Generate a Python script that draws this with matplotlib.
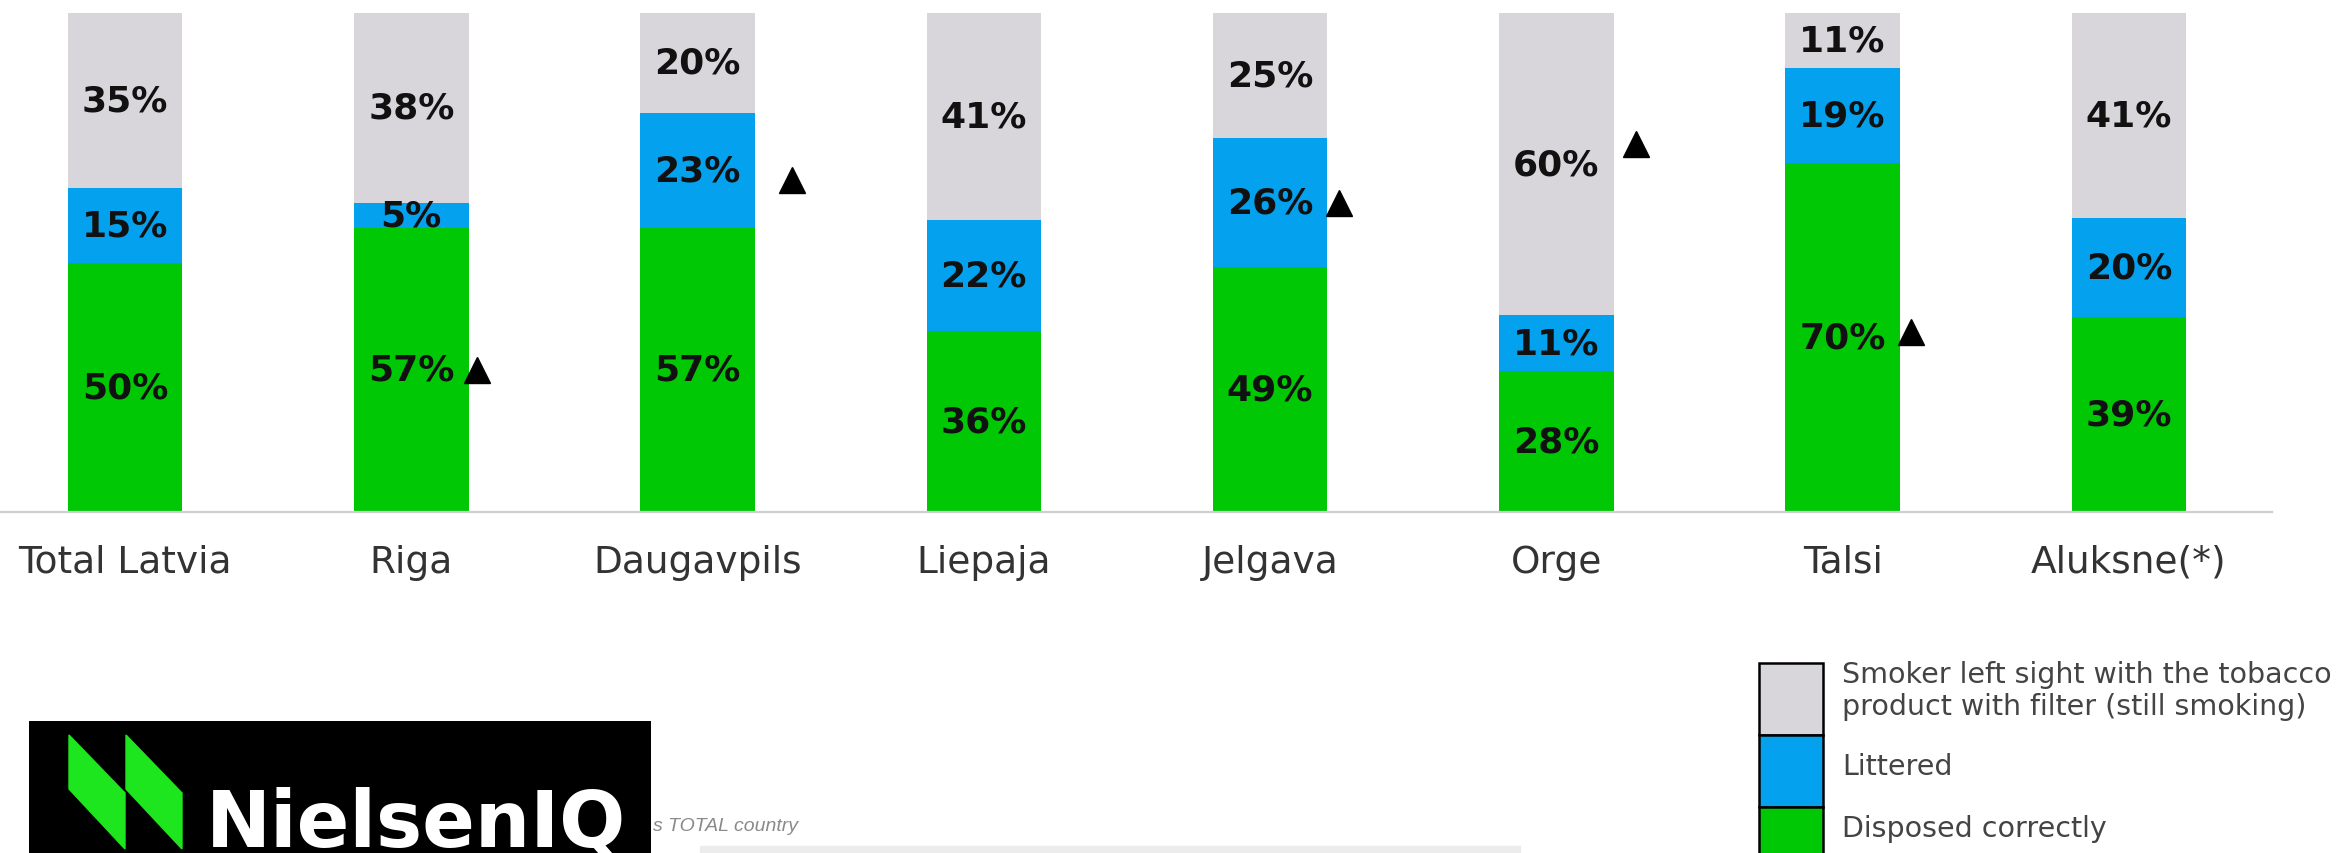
import matplotlib
matplotlib.use("Agg")
import matplotlib.pyplot as plt
from matplotlib.patches import Polygon, Rectangle

# Dados do grafico (percentuais por cidade)
cidades = ["Total Latvia", "Riga", "Daugavpils", "Liepaja", "Jelgava", "Orge", "Talsi", "Aluksne(*)"]
descartado_ok = [50, 57, 57, 36, 49, 28, 70, 39]
jogado_chao = [15, 5, 23, 22, 26, 11, 19, 20]
ainda_fumando = [35, 38, 20, 41, 25, 60, 11, 41]

series_nomes = ["Smoker left sight with the tobacco\nproduct with filter (still smoking)",
                "Littered", "Disposed correctly"]

# Marcadores de diferenca significativa: (indice da cidade, segmento)
destaques = [(1, 0), (2, 1), (4, 1), (5, 2), (6, 0)]
destaque_dx = [0.23, 0.33, 0.24, 0.28, 0.24]
destaque_dy = [0, -2, 0, 4, 1]

COR_VERDE = "#00c805"
COR_AZUL = "#04a2ee"
COR_CINZA = "#d8d6da"

W, H = 2341, 854
fig = plt.figure(figsize=(W / 100, H / 100), dpi=100)
fig.patch.set_facecolor("white")

# Barras empilhadas a 100% (cada coluna normalizada pelo seu total)
totais = [a + b + c for a, b, c in zip(descartado_ok, jogado_chao, ainda_fumando)]
h_verde = [v / t * 100 for v, t in zip(descartado_ok, totais)]
h_azul = [v / t * 100 for v, t in zip(jogado_chao, totais)]
h_cinza = [v / t * 100 for v, t in zip(ainda_fumando, totais)]

ax = fig.add_axes([0, 1 - 513 / H, 2272 / W, 499 / H])
x = list(range(len(cidades)))
largura = 0.4

ax.bar(x, h_verde, largura, color=COR_VERDE)
ax.bar(x, h_azul, largura, bottom=h_verde, color=COR_AZUL)
base_cinza = [a + b for a, b in zip(h_verde, h_azul)]
ax.bar(x, h_cinza, largura, bottom=base_cinza, color=COR_CINZA)

# Rotulos de valor no centro de cada segmento
bases = [[0] * len(x), h_verde, base_cinza]
alturas = [h_verde, h_azul, h_cinza]
valores = [descartado_ok, jogado_chao, ainda_fumando]
for seg in range(3):
    for i in x:
        ax.text(i, bases[seg][i] + alturas[seg][i] / 2, f"{valores[seg][i]}%",
                ha="center", va="center", fontsize=26, fontweight="bold", color="#111111")

# Triangulos
for (i, seg), dx, dy in zip(destaques, destaque_dx, destaque_dy):
    y = bases[seg][i] + alturas[seg][i] / 2 + dy
    ax.plot(i + dx, y, marker="^", color="black", markersize=19, linestyle="none")

ax.set_xlim(-125 / 286.3, 7.5)
ax.set_ylim(0, 100)
ax.set_xticks(x)
ax.set_xticklabels(cidades, fontsize=27, color="#333333")
ax.tick_params(axis="x", length=0, pad=23)
ax.set_yticks([])
for lado in ["top", "right", "left"]:
    ax.spines[lado].set_visible(False)
ax.spines["bottom"].set_color("#cfcfcf")
ax.spines["bottom"].set_linewidth(1.6)
ax.set_facecolor("none")

# Legenda desenhada a mao: coluna de caixas coladas com borda preta
x0_leg = 1758
leg = fig.add_axes([x0_leg / W, 0, (W - x0_leg) / W, (H - 663) / H])
leg.set_xlim(0, W - x0_leg)
leg.set_ylim(H - 663, 0)
leg.axis("off")
cores_leg = [COR_CINZA, COR_AZUL, COR_VERDE]
texto_y = [28, 104, 166]
for k, (cor, nome) in enumerate(zip(cores_leg, series_nomes)):
    leg.add_patch(Rectangle((1, 1 + 72 * k), 64, 72, facecolor=cor,
                            edgecolor="black", linewidth=1.8))
    leg.text(84, texto_y[k], nome, fontsize=20.5, color="#444444", va="center",
             ha="left", linespacing=1.2)

# Logo NielsenIQ
logo = fig.add_axes([29 / W, 0, 622 / W, 132 / H])
logo.set_xlim(0, 622)
logo.set_ylim(132, 0)
logo.axis("off")
logo.add_patch(Rectangle((0, 0), 622, 132, color="black"))
logo.add_patch(Polygon([(40, 14), (40, 68), (96, 128), (96, 72)], color="#1ee61e"))
logo.add_patch(Polygon([(97, 14), (97, 68), (153, 128), (153, 72)], color="#1ee61e"))
logo.text(177, 125, "NielsenIQ", color="white", fontsize=56, fontweight="bold",
          ha="left", va="baseline")

fig.text(653 / W, 1 - 827 / H, "s TOTAL country", fontsize=14, style="italic",
         color="#8a8a8a", family="Liberation Sans", va="center", ha="left")
fig.patches.append(Rectangle((700 / W, 0), 820 / W, 7 / H, transform=fig.transFigure,
                             color="#ececec", zorder=0))

fig.savefig("out.png", dpi=100)
